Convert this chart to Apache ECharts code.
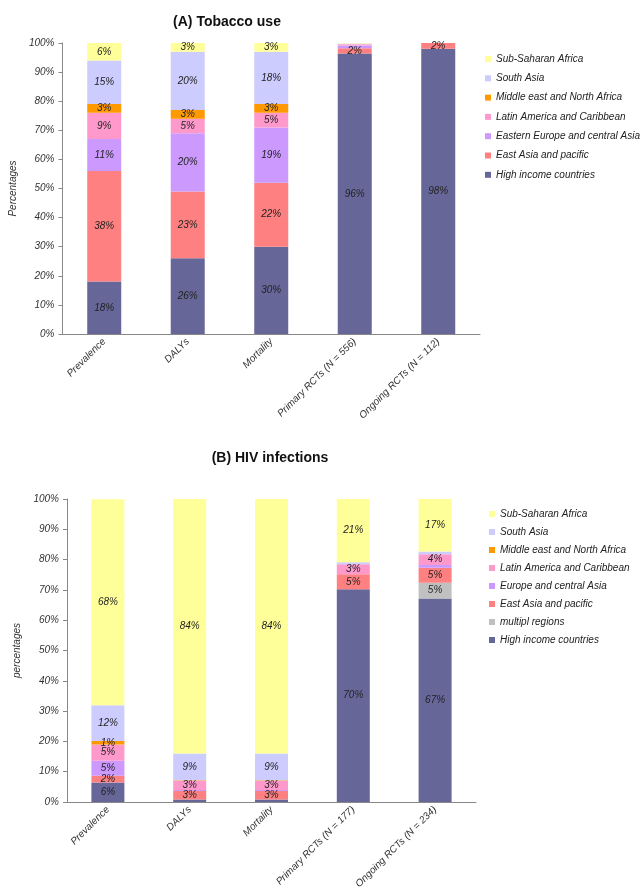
<!DOCTYPE html>
<html>
<head>
<meta charset="utf-8">
<script src="https://cdn.jsdelivr.net/npm/echarts@6/dist/echarts.min.js"></script>
<style>
  html, body { margin: 0; padding: 0; background: #fff; }
  #chart { width: 640px; height: 893px; }
</style>
</head>
<body>
<div id="chart"></div>
<script>
// categories
const catsA = ['Prevalence', 'DALYs', 'Mortality', 'Primary RCTs (N = 556)', 'Ongoing RCTs (N = 112)'];
const catsB = ['Prevalence', 'DALYs', 'Mortality', 'Primary RCTs (N = 177)', 'Ongoing RCTs (N = 234)'];
const yTicks = [0, 10, 20, 30, 40, 50, 60, 70, 80, 90, 100];

// (A) Tobacco use, shares in %
const tobHighIncome = [18, 26, 30, 96.4, 98];
const tobEastAsia = [38, 23, 22, 1.8, 2];
const tobEasternEurope = [11, 20, 19, 0.9, 0];
const tobLatinAmerica = [9, 5, 5, 0.5, 0];
const tobMiddleEast = [3, 3, 3, 0, 0];
const tobSouthAsia = [15, 20, 18, 0.2, 0];
const tobSubSaharan = [6, 3, 3, 0.2, 0];

// (B) HIV infections, shares in %
const hivHighIncome = [6.4, 0.8, 0.8, 70.2, 67.2];
const hivMultiRegions = [0, 0, 0, 0, 5.2];
const hivEastAsia = [2.3, 2.8, 2.8, 5, 4.9];
const hivEurope = [4.9, 0.4, 0.4, 0, 0.9];
const hivLatinAmerica = [5.4, 3, 3, 3.3, 3.6];
const hivMiddleEast = [1.1, 0.2, 0.2, 0, 0];
const hivSouthAsia = [11.8, 8.8, 8.8, 0.6, 0.9];
const hivSubSaharan = [68, 84, 84, 20.9, 17.3];

const FONT = '"Liberation Sans", Arial, sans-serif';

const colors = {
  'High income countries': '#666699',
  'multipl regions': '#C0C0C0',
  'East Asia and pacific': '#FF8080',
  'Eastern Europe and central Asia': '#CC99FF',
  'Europe and central Asia': '#CC99FF',
  'Latin America and Caribbean': '#FF99CC',
  'Middle east and North Africa': '#FF9900',
  'South Asia': '#CCCCFF',
  'Sub-Saharan Africa': '#FFFF99'
};

const seriesA = [
  ['High income countries', tobHighIncome],
  ['East Asia and pacific', tobEastAsia],
  ['Eastern Europe and central Asia', tobEasternEurope],
  ['Latin America and Caribbean', tobLatinAmerica],
  ['Middle east and North Africa', tobMiddleEast],
  ['South Asia', tobSouthAsia],
  ['Sub-Saharan Africa', tobSubSaharan]
];
const seriesB = [
  ['High income countries', hivHighIncome],
  ['multipl regions', hivMultiRegions],
  ['East Asia and pacific', hivEastAsia],
  ['Europe and central Asia', hivEurope],
  ['Latin America and Caribbean', hivLatinAmerica],
  ['Middle east and North Africa', hivMiddleEast],
  ['South Asia', hivSouthAsia],
  ['Sub-Saharan Africa', hivSubSaharan]
];

// small unlabeled slivers stay below 1
let makeSeries = (list, idx, stack, width) => list.map(([name, data]) => ({
  name: name,
  type: 'bar',
  stack: stack,
  xAxisIndex: idx,
  yAxisIndex: idx,
  barWidth: width,
  data: data,
  itemStyle: { color: colors[name] },
  label: {
    show: true,
    position: 'inside',
    fontFamily: FONT,
    fontStyle: 'italic',
    fontSize: 10,
    color: '#222',
    formatter: p => p.value >= 1 ? Math.round(p.value) + '%' : ''
  },
  emphasis: { disabled: true }
}));

let xAxisCfg = (idx, cats) => ({
  type: 'category',
  gridIndex: idx,
  data: cats,
  axisLine: { lineStyle: { color: '#888' } },
  axisTick: { show: false },
  axisLabel: {
    rotate: 45,
    interval: 0,
    margin: 6,
    fontFamily: FONT,
    fontStyle: 'italic',
    fontSize: 10,
    color: '#333'
  }
});

let yAxisCfg = (idx, name) => ({
  type: 'value',
  gridIndex: idx,
  min: yTicks[0],
  max: yTicks[yTicks.length - 1],
  interval: 10,
  name: name,
  nameLocation: 'middle',
  nameGap: 44,
  nameTextStyle: { fontFamily: FONT, fontStyle: 'italic', fontSize: 10, color: '#333' },
  axisLine: { show: true, lineStyle: { color: '#888' } },
  axisTick: { show: true, length: 4, lineStyle: { color: '#888' } },
  splitLine: { show: false },
  axisLabel: {
    fontFamily: FONT,
    fontStyle: 'italic',
    fontSize: 10,
    color: '#333',
    margin: 8,
    formatter: v => v + '%'
  }
});

let legendCfg = (list, left, top, gap) => ({
  orient: 'vertical',
  left: left,
  top: top,
  icon: 'rect',
  itemWidth: 6,
  itemHeight: 6,
  itemGap: gap,
  selectedMode: false,
  data: list.map(s => s[0]).reverse(),
  textStyle: { fontFamily: FONT, fontStyle: 'italic', fontSize: 10, color: '#222', lineHeight: 12 }
});

const chart = echarts.init(document.getElementById('chart'));
chart.setOption({
  animation: false,
  title: [
    { text: '(A) Tobacco use', left: 222, top: 10, textAlign: 'center',
      textStyle: { fontFamily: FONT, fontSize: 14, fontWeight: 'bold', color: '#111' } },
    { text: '(B) HIV infections', left: 265, top: 446, textAlign: 'center',
      textStyle: { fontFamily: FONT, fontSize: 14, fontWeight: 'bold', color: '#111' } }
  ],
  legend: [
    legendCfg(seriesA, 480, 48, 7.3),
    legendCfg(seriesB, 484, 503, 6)
  ],
  grid: [
    { left: 60, top: 43, width: 420, height: 291 },
    { left: 67, top: 499, width: 409, height: 303 }
  ],
  xAxis: [xAxisCfg(0, catsA), xAxisCfg(1, catsB)],
  yAxis: [yAxisCfg(0, 'Percentages'), yAxisCfg(1, 'percentages')],
  series: [
    ...makeSeries(seriesA, 0, 'tob', 34),
    ...makeSeries(seriesB, 1, 'hiv', 33)
  ]
});
</script>
</body>
</html>
